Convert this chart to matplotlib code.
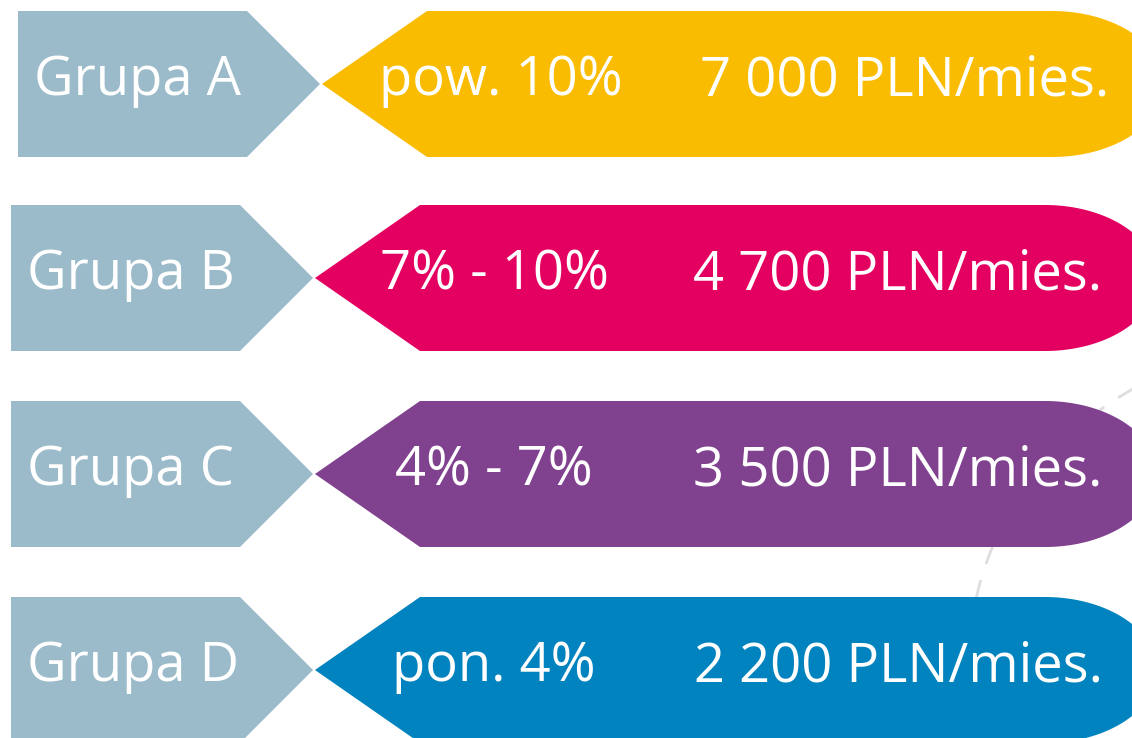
import numpy as np
import matplotlib
matplotlib.use("Agg")
import matplotlib.pyplot as plt
from matplotlib.patches import Polygon, Arc

# ---- data ----
groups = ["Grupa A", "Grupa B", "Grupa C", "Grupa D"]
share_labels = ["pow. 10%", "7% - 10%", "4% - 7%", "pon. 4%"]
amount_labels = ["7 000 PLN/mies.", "4 700 PLN/mies.", "3 500 PLN/mies.", "2 200 PLN/mies."]
colors = ["#F9BC00", "#E30061", "#80418E", "#0083BE"]
grey = "#9BBBCA"

# ---- layout (pixels) ----
W, H = 1132, 738
row_top = [11, 205, 401, 597]
row_dx = [7, 0, 0, 0]
row_h = 146
fs = 40 * 100 / 72 * 0.72 * 0.98  # points

fig = plt.figure(figsize=(W / 100, H / 100), dpi=100)
ax = fig.add_axes([0, 0, 1, 1])
ax.set_xlim(0, W)
ax.set_ylim(H, 0)
ax.axis("off")

# background dashed arc
arc = Arc((1290, 670), 2 * 322, 2 * 322, theta1=0, theta2=360, color="#DEDEDE",
          lw=2, linestyle=(0, (7, 6)), zorder=0)
ax.add_patch(arc)

for i, (g, s, a, c) in enumerate(zip(groups, share_labels, amount_labels, colors)):
    top = row_top[i]
    bot = top + row_h
    cy = top + row_h / 2
    dx = row_dx[i]
    half = row_h / 2
    # grey arrow
    gx0, gx1 = 11 + dx, 240 + dx
    ax.add_patch(Polygon([(gx0, top), (gx1, top), (gx1 + half, cy), (gx1, bot), (gx0, bot)],
                         closed=True, fc=grey, ec="none", zorder=2))
    # coloured tag with pointed left and rounded right end
    px, cx0 = 315 + dx, 420 + dx
    xe = 1045 + dx
    a_ell = 112
    t = np.linspace(-np.pi / 2, np.pi / 2, 80)
    ell = [(xe + a_ell * np.cos(tt), cy + half * np.sin(tt)) for tt in t]
    pts = [(px, cy), (cx0, top)] + ell + [(cx0, bot)]
    ax.add_patch(Polygon(pts, closed=True, fc=c, ec="none", zorder=2))

    base = top + 84
    ax.text(35 + dx - 8, base, g, color="white", fontsize=fs, family="Open Sans",
            ha="left", va="baseline", zorder=3)
    ax.text(494 + dx, base, s, color="white", fontsize=fs, family="Open Sans",
            ha="center", va="baseline", zorder=3)
    ax.text(898 + dx, base, a, color="white", fontsize=fs, family="Open Sans",
            ha="center", va="baseline", zorder=3)

fig.savefig("out.png", dpi=100, facecolor="white")
